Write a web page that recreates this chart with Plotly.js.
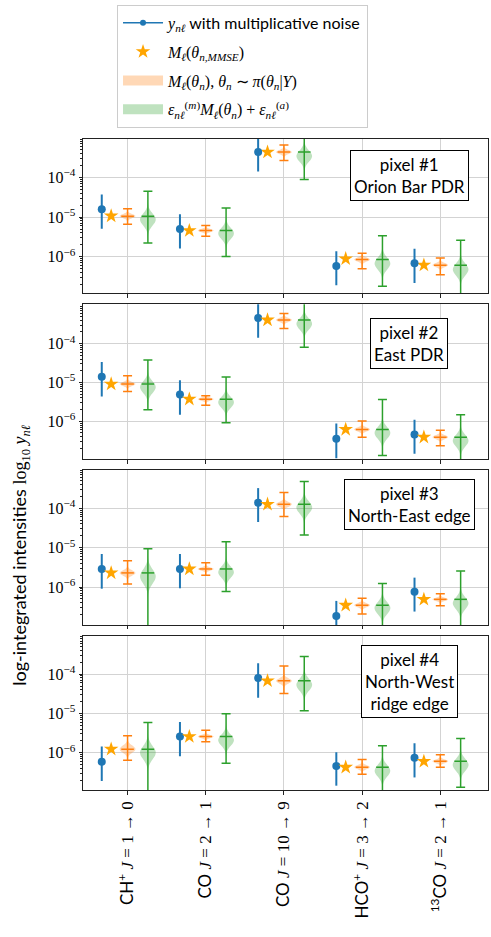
<!DOCTYPE html>
<html><head><meta charset="utf-8">
<script src="https://cdn.plot.ly/plotly-3.0.1.min.js"></script>
<style>html,body{margin:0;padding:0;background:#fff}#chart{width:491px;height:937px}</style>
</head><body><div id="chart"></div>
<script>
// ---------------- DATA (log10 of integrated intensities) ----------------
const catSpecies = ['CH<sup>+</sup>', 'CO', 'CO', 'HCO<sup>+</sup>', '<sup>13</sup>CO'];
const catTrans = ['1 → 0', '2 → 1', '10 → 9', '3 → 2', '2 → 1'];
const panelLabels = ['pixel #1<br>Orion Bar PDR', 'pixel #2<br>East PDR', 'pixel #3<br>North-East edge', 'pixel #4<br>North-West<br>ridge edge'];
const yTickVals = [-6, -5, -4];
const yTickText = ['10<sup>−6</sup>', '10<sup>−5</sup>', '10<sup>−4</sup>'];

// observations y_nl (blue) : value, lower and upper end of error bar
const obsVal = [[-4.80, -5.30, -3.36, -6.23, -6.16], [-4.85, -5.31, -3.34, -6.45, -6.34], [-5.54, -5.54, -3.86, -6.73, -6.12], [-6.23, -5.59, -4.10, -6.34, -6.13]];
const obsLo  = [[-5.29, -5.79, -3.85, -6.72, -6.66], [-5.36, -5.83, -3.85, -6.95, -6.84], [-6.04, -6.03, -4.35, -7.22, -6.62], [-6.72, -6.09, -4.60, -6.84, -6.63]];
const obsHi  = [[-4.43, -4.93, -2.99, -5.86, -5.80], [-4.47, -4.94, -2.97, -6.06, -5.96], [-5.16, -5.16, -3.49, -6.35, -5.76], [-5.84, -5.22, -3.72, -5.99, -5.76]];
// MMSE estimate (star)
const mmseVal = [[-4.97, -5.34, -3.36, -6.05, -6.21], [-5.04, -5.43, -3.39, -6.21, -6.41], [-5.64, -5.54, -3.90, -6.46, -6.31], [-5.91, -5.59, -4.17, -6.37, -6.22]];
// posterior model predictions (orange violin): median, min, max, spread
const postMed = [[-4.975, -5.34, -3.36, -6.07, -6.21], [-5.04, -5.43, -3.39, -6.21, -6.41], [-5.64, -5.54, -3.90, -6.46, -6.31], [-5.91, -5.59, -4.17, -6.37, -6.22]];
const postLo  = [[-5.18, -5.48, -3.57, -6.30, -6.45], [-5.23, -5.59, -3.61, -6.41, -6.63], [-5.92, -5.70, -4.21, -6.68, -6.47], [-6.19, -5.72, -4.49, -6.55, -6.37]];
const postHi  = [[-4.79, -5.21, -3.18, -5.91, -6.03], [-4.83, -5.34, -3.22, -5.99, -6.23], [-5.33, -5.38, -3.60, -6.28, -6.17], [-5.57, -5.43, -3.79, -6.17, -6.05]];
const postSpread = [[0.05, 0.04, 0.05, 0.05, 0.05], [0.05, 0.04, 0.05, 0.05, 0.05], [0.065, 0.04, 0.06, 0.05, 0.04], [0.09, 0.04, 0.065, 0.05, 0.045]];
// noisy predictions (green violin): median, min, max, mode, spread
const noisyMed  = [[-4.975, -5.34, -3.36, -6.07, -6.21], [-5.04, -5.43, -3.39, -6.21, -6.41], [-5.64, -5.54, -3.90, -6.46, -6.31], [-5.91, -5.59, -4.17, -6.37, -6.22]];
const noisyLo   = [[-5.65, -5.99, -4.05, -6.74, -7.30], [-5.70, -6.04, -4.09, -6.88, -7.30], [-7.30, -6.11, -4.68, -7.30, -7.30], [-7.30, -6.27, -4.93, -7.30, -6.88]];
const noisyHi   = [[-4.35, -4.77, -2.90, -5.47, -5.58], [-4.42, -4.86, -2.90, -5.44, -5.83], [-5.03, -4.85, -3.32, -5.91, -5.59], [-5.23, -5.01, -3.55, -5.82, -5.64]];
const noisyMode = [[-5.06, -5.41, -3.46, -6.17, -6.32], [-5.12, -5.51, -3.49, -6.30, -6.50], [-5.73, -5.62, -3.98, -6.53, -6.41], [-6.00, -5.68, -4.27, -6.46, -6.31]];
const noisySpread = [[0.15, 0.14, 0.14, 0.15, 0.15], [0.15, 0.14, 0.14, 0.15, 0.15], [0.18, 0.14, 0.15, 0.15, 0.15], [0.17, 0.14, 0.15, 0.15, 0.15]];
const yRanges = [[-6.92, -3.03], [-6.98, -2.985], [-6.96, -3.03], [-6.95, -3.02]];

// ---------------- STYLE ----------------
const SANS = 'Lato, "Noto Sans", sans-serif';
const m = s => '<span style="font-family:Liberation Serif">' + s + '</span>';
const BLUE = '#1f77b4', ORANGE = '#ff7f0e', STAR = '#ffa500', GREEN = '#2ca02c';
const OFF = {obs: -0.33, star: -0.21, post: 0, noisy: 0.26};
const cats = [0, 1, 2, 3, 4];

const legendNames = [
  m('<i>y</i><sub><i>nℓ</i></sub>') + ' with multiplicative noise',
  m('<i>M</i><sub><i>ℓ</i></sub>(<i>θ</i><sub><i>n,MMSE</i></sub>)'),
  m('<i>M</i><sub><i>ℓ</i></sub>(<i>θ</i><sub><i>n</i></sub>), <i>θ</i><sub><i>n</i></sub> ∼ <i>π</i>(<i>θ</i><sub><i>n</i></sub>|<i>Y</i>)'),
  m('<i>ε</i><sub><i>nℓ</i></sub><sup>(<i>m</i>)</sup><i>M</i><sub><i>ℓ</i></sub>(<i>θ</i><sub><i>n</i></sub>) + <i>ε</i><sub><i>nℓ</i></sub><sup>(<i>a</i>)</sup>')
];

const traces = [];
// legend-only entries
traces.push({type: 'scatter', x: [null], y: [null], mode: 'lines+markers', name: legendNames[0], legendgroup: 'g1',
  line: {color: BLUE, width: 1.5}, marker: {color: BLUE, size: 6}, xaxis: 'x', yaxis: 'y'});
const starLegendIdx = traces.length;
traces.push(null); // placeholder for star trace of panel 1
traces.push({type: 'scatter', x: [null], y: [null], mode: 'lines', name: legendNames[2], legendgroup: 'g3',
  line: {color: 'rgba(255,127,14,0.3)', width: 12}, xaxis: 'x', yaxis: 'y'});
traces.push({type: 'scatter', x: [null], y: [null], mode: 'lines', name: legendNames[3], legendgroup: 'g4',
  line: {color: 'rgba(44,160,44,0.3)', width: 12}, xaxis: 'x', yaxis: 'y'});

for (let p = 0; p < 4; p++) {
  const xa = p === 0 ? 'x' : 'x' + (p + 1);
  const ya = p === 0 ? 'y' : 'y' + (p + 1);
  // violins
  for (let i = 0; i < 5; i++) {
    traces.push({type: 'violin', x: [i + OFF.post], y: [postMed[p][i]], xaxis: xa, yaxis: ya,
      width: 0.2, bandwidth: postSpread[p][i], spanmode: 'manual', span: [postLo[p][i], postHi[p][i]],
      fillcolor: 'rgba(255,127,14,0.3)', line: {width: 0, color: 'rgba(255,127,14,0.3)'}, points: false,
      box: {visible: false}, meanline: {visible: false}, showlegend: false, hoverinfo: 'skip'});
    traces.push({type: 'violin', x: [i + OFF.noisy], y: [noisyMode[p][i]], xaxis: xa, yaxis: ya,
      width: 0.2, bandwidth: noisySpread[p][i], spanmode: 'manual', span: [noisyLo[p][i], noisyHi[p][i]],
      fillcolor: 'rgba(44,160,44,0.3)', line: {width: 0, color: 'rgba(44,160,44,0.3)'}, points: false,
      box: {visible: false}, meanline: {visible: false}, showlegend: false, hoverinfo: 'skip'});
  }
  // extrema + median bars
  traces.push({type: 'scatter', mode: 'markers', xaxis: xa, yaxis: ya, showlegend: false,
    x: cats.map(i => i + OFF.post), y: postMed[p],
    marker: {symbol: 'line-ew', size: 9, line: {color: ORANGE, width: 1.5}},
    error_y: {type: 'data', symmetric: false, array: postHi[p].map((h, i) => h - postMed[p][i]),
      arrayminus: postMed[p].map((v, i) => v - postLo[p][i]), color: ORANGE, thickness: 1.5, width: 4.5}});
  traces.push({type: 'scatter', mode: 'markers', xaxis: xa, yaxis: ya, showlegend: false,
    x: cats.map(i => i + OFF.noisy), y: noisyMed[p],
    marker: {symbol: 'line-ew', size: 9, line: {color: GREEN, width: 1.5}},
    error_y: {type: 'data', symmetric: false, array: noisyHi[p].map((h, i) => h - noisyMed[p][i]),
      arrayminus: noisyMed[p].map((v, i) => v - noisyLo[p][i]), color: GREEN, thickness: 1.5, width: 4.5}});
  // observations
  traces.push({type: 'scatter', mode: 'markers', xaxis: xa, yaxis: ya, showlegend: false,
    x: cats.map(i => i + OFF.obs), y: obsVal[p],
    marker: {color: BLUE, size: 8},
    error_y: {type: 'data', symmetric: false, array: obsHi[p].map((h, i) => h - obsVal[p][i]),
      arrayminus: obsVal[p].map((v, i) => v - obsLo[p][i]), color: BLUE, thickness: 2, width: 0}});
  // MMSE star
  const star = {type: 'scatter', mode: 'markers', xaxis: xa, yaxis: ya, showlegend: p === 0,
    name: legendNames[1], legendgroup: 'g2', x: cats.map(i => i + OFF.star), y: mmseVal[p],
    marker: {symbol: 'star', color: STAR, size: 11, line: {width: 0}}};
  if (p === 0) traces[starLegendIdx] = star; else traces.push(star);
}

// ---------------- LAYOUT ----------------
const minorVals = [];
for (let e = -8; e <= -3; e++) for (let k = 2; k <= 9; k++) minorVals.push(e + Math.log10(k));

const domains = [[0.763, 1], [0.508, 0.7461], [0.2535, 0.4916], [0, 0.237]];
const boxY = [0.763, 0.744, 0.78, 0.706];
const layout = {
  width: 491, height: 937,
  margin: {l: 83, r: 3, t: 139, b: 147},
  paper_bgcolor: '#fff', plot_bgcolor: '#fff',
  font: {family: SANS, size: 14, color: '#000'},
  violinmode: 'overlay', showlegend: true,
  legend: {x: 0.084, y: 1.206, xanchor: 'left', yanchor: 'top', bgcolor: '#fff', bordercolor: '#cccccc', borderwidth: 1,
    font: {family: SANS, size: 16, color: '#000'}, tracegroupgap: 5, traceorder: 'grouped', itemwidth: 40},
  annotations: [], hovermode: false
};
for (let p = 0; p < 4; p++) {
  const sx = p === 0 ? '' : String(p + 1);
  layout['xaxis' + sx] = {domain: [0, 1], anchor: 'y' + sx, range: [-0.57, 4.61], tickvals: cats,
    ticktext: cats.map(i => catSpecies[i] + ' ' + m('<i>J</i> = ' + catTrans[i])),
    showticklabels: p === 3, tickangle: -90, tickfont: {family: SANS, size: 17, color: '#000'},
    ticks: 'outside', ticklen: 3.5, tickcolor: '#222', showgrid: true, gridcolor: '#d3d3d3', gridwidth: 1,
    showline: true, mirror: true, linecolor: '#222', linewidth: 1, zeroline: false, matches: p === 0 ? undefined : 'x'};
  layout['yaxis' + sx] = {domain: domains[p], anchor: 'x' + sx, range: yRanges[p], tickvals: yTickVals, ticktext: yTickText,
    tickfont: {family: 'Liberation Serif, DejaVu Serif, serif', size: 16, color: '#000'},
    ticks: 'outside', ticklen: 3.5, tickcolor: '#222', showgrid: true, gridcolor: '#d3d3d3', gridwidth: 1,
    minor: {tickvals: minorVals, ticks: 'outside', ticklen: 2, tickcolor: '#222', showgrid: false},
    showline: true, mirror: true, linecolor: '#222', linewidth: 1, zeroline: false};
  layout.annotations.push({xref: 'x' + sx + ' domain', yref: 'y' + sx + ' domain', x: 0.805, y: boxY[p],
    xanchor: 'center', yanchor: 'middle', text: panelLabels[p], showarrow: false, align: 'center',
    font: {family: SANS, size: 17, color: '#000'}, bgcolor: '#fff', bordercolor: '#000', borderwidth: 1, borderpad: 3});
}
layout.annotations.push({xref: 'paper', yref: 'paper', x: -0.153, y: 0.36, xanchor: 'center', yanchor: 'middle',
  textangle: -90, showarrow: false, font: {family: SANS, size: 18, color: '#000'},
  text: 'log-integrated intensities ' + m('log<sub>10</sub> <i>y</i><sub><i>nℓ</i></sub>')});

Plotly.newPlot('chart', traces, layout, {displayModeBar: false, staticPlot: true});
</script></body></html>
